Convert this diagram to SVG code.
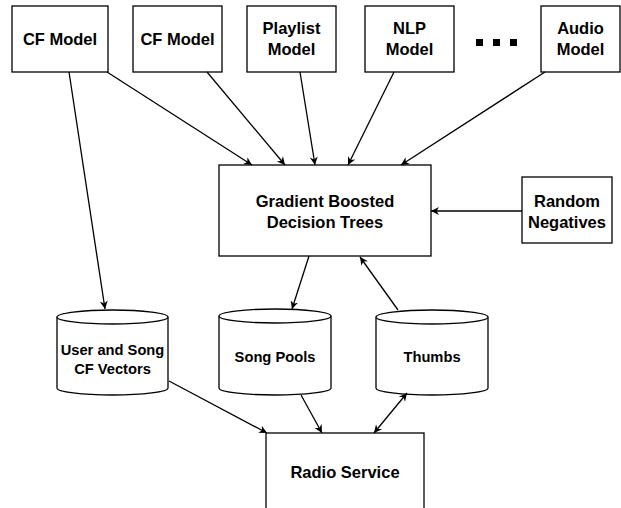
<svg xmlns="http://www.w3.org/2000/svg" width="621" height="508" viewBox="0 0 621 508">
<defs>
<marker id="arr" viewBox="0 0 10 10" refX="10" refY="5" markerUnits="userSpaceOnUse" markerWidth="10" markerHeight="8" orient="auto-start-reverse">
<path d="M0,0 L10,5 L0,10 L3,5 Z" fill="#000"/>
</marker>
</defs>
<style>
rect.n, path.n { fill: #fff; stroke: #000; stroke-width: 1.3; }
text { font-family: "Liberation Sans", Arial, sans-serif; font-weight: bold; fill: #000; text-anchor: middle; }
text.b { font-size: 16.5px; }
text.c { font-size: 14.7px; }
#edges line { stroke: #000; stroke-width: 1.3; fill: none; marker-end: url(#arr); }
</style>
<rect width="621" height="508" fill="#fff"/>

<g id="cf1"><rect class="n" x="12" y="6" width="96" height="66"/><text class="b" x="60" y="45">CF Model</text></g>
<g id="cf2"><rect class="n" x="133" y="6" width="89" height="66"/><text class="b" x="177.5" y="45">CF Model</text></g>
<g id="playlist"><rect class="n" x="247" y="6" width="89" height="66"/><text class="b" x="291.5" y="34">Playlist</text><text class="b" x="291.5" y="55">Model</text></g>
<g id="nlp"><rect class="n" x="365" y="6" width="89" height="66"/><text class="b" x="409.5" y="34">NLP</text><text class="b" x="409.5" y="55">Model</text></g>
<g id="dots"><rect x="476" y="39" width="7" height="7"/><rect x="493" y="39" width="7" height="7"/><rect x="510" y="39" width="7" height="7"/></g>
<g id="audio"><rect class="n" x="541" y="6" width="79" height="66"/><text class="b" x="580.5" y="34">Audio</text><text class="b" x="580.5" y="55">Model</text></g>

<g id="gbdt"><rect class="n" x="219" y="165" width="212" height="91"/><text class="b" x="325" y="207">Gradient Boosted</text><text class="b" x="325" y="228">Decision Trees</text></g>
<g id="random"><rect class="n" x="522" y="177" width="90" height="66"/><text class="b" x="567" y="207">Random</text><text class="b" x="567" y="228">Negatives</text></g>

<g id="vectors"><path class="n" d="M57,317 A55.5,7 0 0 1 168,317 V388 A55.5,7 0 0 1 57,388 Z"/><path class="n" d="M57,317 A55.5,7 0 0 0 168,317" fill="none"/><text class="c" x="112.5" y="355">User and Song</text><text class="c" x="112.5" y="373.5">CF Vectors</text></g>
<g id="pools"><path class="n" d="M219,316 A56,7 0 0 1 331,316 V388 A56,7 0 0 1 219,388 Z"/><path class="n" d="M219,316 A56,7 0 0 0 331,316" fill="none"/><text class="c" x="275" y="362">Song Pools</text></g>
<g id="thumbs"><path class="n" d="M376,317 A56,7 0 0 1 488,317 V388 A56,7 0 0 1 376,388 Z"/><path class="n" d="M376,317 A56,7 0 0 0 488,317" fill="none"/><text class="c" x="432" y="362">Thumbs</text></g>

<g id="radio"><rect class="n" x="266" y="433" width="158" height="90"/><text class="b" x="345" y="478">Radio Service</text></g>

<g id="edges">
<line x1="69" y1="72" x2="105" y2="309"/>
<line x1="107" y1="72" x2="252" y2="165"/>
<line x1="207" y1="72" x2="285" y2="165"/>
<line x1="300" y1="72" x2="315" y2="165"/>
<line x1="394" y1="72" x2="348" y2="165"/>
<line x1="545" y1="72" x2="401" y2="165"/>
<line x1="522" y1="211" x2="431" y2="211"/>
<line x1="309" y1="256" x2="292" y2="309"/>
<line x1="398" y1="310" x2="360" y2="257"/>
<line x1="169" y1="381" x2="267" y2="433"/>
<line x1="301" y1="395" x2="322" y2="433"/>
<line x1="407" y1="393" x2="374" y2="433" marker-start="url(#arr)"/>
</g>
</svg>
